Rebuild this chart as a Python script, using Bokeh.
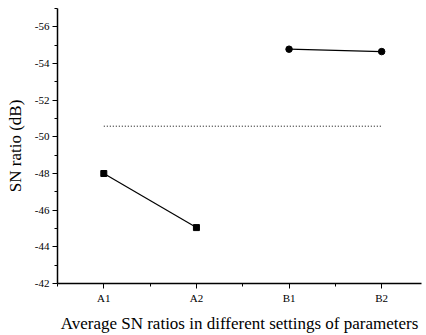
from bokeh.plotting import figure
from bokeh.models import Range1d, FixedTicker
from bokeh.embed import file_html
from bokeh.resources import INLINE

# data
a_levels = [1, 2]
a_values = [-48.0, -45.05]
b_levels = [3, 4]
b_values = [-54.78, -54.65]
mean_x = [1, 4]
mean_sn = [-50.58, -50.58]
x_labels = {1: "A1", 2: "A2", 3: "B1", 4: "B2"}
y_ticks = [-56, -54, -52, -50, -48, -46, -44, -42]
y_minor = [-57, -55, -53, -51, -49, -47, -45, -43]
x_title = "Average SN ratios in different settings of parameters"
y_title = "SN ratio (dB)"

FONT = "Liberation Serif"

p = figure(width=426, height=335, output_backend="svg", toolbar_location=None,
           x_range=Range1d(0.5, 4.43), y_range=Range1d(-42, -57),
           min_border_left=57, min_border_top=8, min_border_right=5, min_border_bottom=48)
p.outline_line_color = None
p.xgrid.visible = False
p.ygrid.visible = False

p.line(mean_x, mean_sn, line_color="black", line_width=1, line_dash="1 2")
p.line(a_levels, a_values, line_color="black", line_width=1.2)
p.scatter(a_levels, a_values, marker="square", size=6, color="black")
p.line(b_levels, b_values, line_color="black", line_width=1.2)
p.scatter(b_levels, b_values, marker="circle", size=6.5, color="black")

xa = p.xaxis[0]
xa.ticker = FixedTicker(ticks=[1, 2, 3, 4], minor_ticks=[0.5, 1.5, 2.5, 3.5])
xa.major_label_overrides = x_labels
xa.axis_label = x_title
ya = p.yaxis[0]
ya.ticker = FixedTicker(ticks=y_ticks, minor_ticks=y_minor)
ya.major_label_overrides = {t: str(t) for t in y_ticks}
ya.axis_label = y_title

for ax in (xa, ya):
    ax.axis_line_color = "black"
    ax.axis_line_width = 1.5
    ax.major_tick_line_color = "black"
    ax.minor_tick_line_color = "black"
    ax.major_tick_out = 5
    ax.major_tick_in = 0
    ax.minor_tick_out = 3
    ax.minor_tick_in = 0
    ax.major_label_text_font = FONT
    ax.major_label_text_font_size = "11px"
    ax.major_label_text_color = "black"
    ax.axis_label_text_font = FONT
    ax.axis_label_text_font_size = "17px"
    ax.axis_label_text_font_style = "normal"
    ax.axis_label_text_color = "black"
xa.major_label_standoff = 3
xa.axis_label_standoff = 7
ya.major_label_standoff = 3
ya.axis_label_standoff = 7

open("out.html", "w").write(file_html(p, INLINE))
